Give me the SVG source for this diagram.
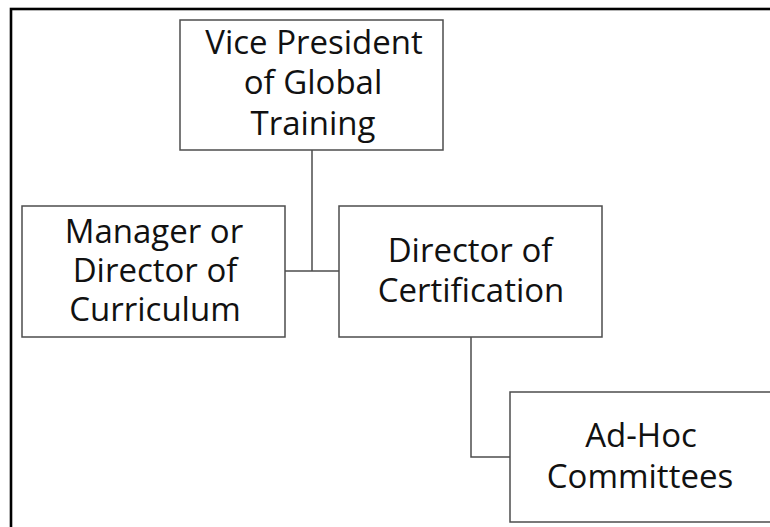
<svg xmlns="http://www.w3.org/2000/svg" width="770" height="527" viewBox="0 0 770 527">
<style>
.box{fill:#fff;stroke:#4d4d4d;stroke-width:1.5}
.lbl{font-family:"Open Sans","Liberation Sans",sans-serif;font-size:33px;fill:#111;text-anchor:middle}
.conn{fill:none;stroke:#4d4d4d;stroke-width:1.5}
</style>
<rect x="0" y="0" width="770" height="527" fill="#fff"/>
<rect x="11" y="9" width="790" height="560" fill="none" stroke="#000" stroke-width="2.6"/>
<g id="connectors">
<path class="conn" d="M312 150V271M285 271H339"/>
<path class="conn" d="M471 337V457H510"/>
</g>
<g id="vp">
<rect class="box" x="180" y="20" width="263" height="130"/>
<text class="lbl"><tspan x="314" y="54">Vice President</tspan><tspan x="313" y="94">of Global</tspan><tspan x="313" y="135">Training</tspan></text>
</g>
<g id="curriculum">
<rect class="box" x="22" y="206" width="263" height="131"/>
<text class="lbl"><tspan x="154" y="243">Manager or</tspan><tspan x="155" y="282">Director of</tspan><tspan x="155" y="321">Curriculum</tspan></text>
</g>
<g id="certification">
<rect class="box" x="339" y="206" width="263" height="131"/>
<text class="lbl"><tspan x="470" y="262">Director of</tspan><tspan x="471" y="302">Certification</tspan></text>
</g>
<g id="adhoc">
<rect class="box" x="510" y="392" width="263" height="130"/>
<text class="lbl"><tspan x="641" y="447">Ad-Hoc</tspan><tspan x="640" y="488">Committees</tspan></text>
</g>
</svg>
